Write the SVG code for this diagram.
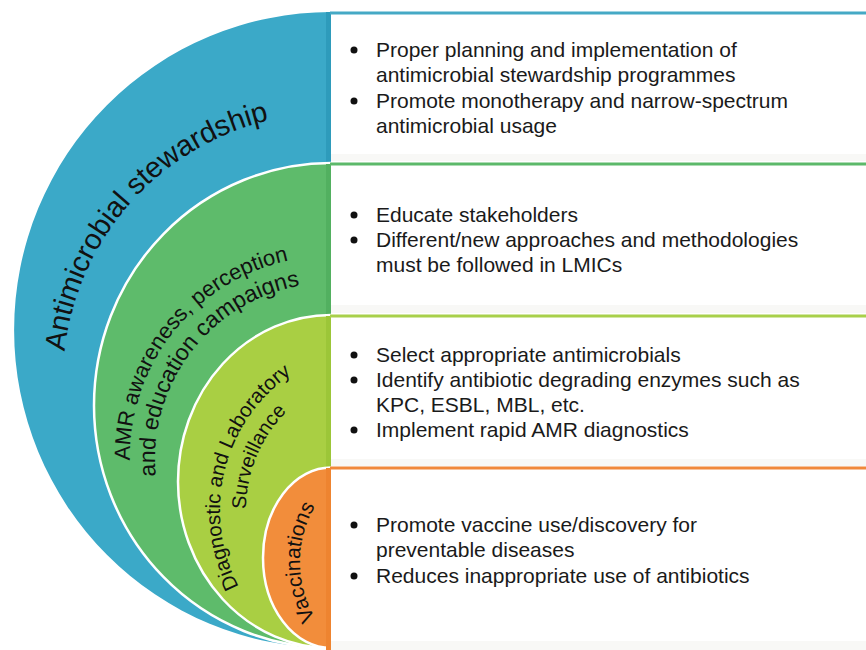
<svg xmlns="http://www.w3.org/2000/svg" width="866" height="650" viewBox="0 0 866 650">
<style>
.box{fill:#ffffff}
.shade{fill:#f8f8f6}
.bt{font-family:"Liberation Sans",Arial,sans-serif;font-size:21px;fill:#1a1a1a}
.bul{fill:#111}
.ct{font-family:"Liberation Sans",Arial,sans-serif;fill:#111}
.sep{stroke:#ffffff;stroke-width:2.5}
</style>
<defs>
<path id="pBlue" d="M197,613.1 A268,268 0 0 1 331,113"/>
<path id="pG1" d="M230.5,631.1 A201,201 0 0 1 331,256"/>
<path id="pG2" d="M243,611.4 A176,176 0 0 1 331,283"/>
<path id="pD1" d="M302.5,652.9 A165,165 0 0 1 385,345"/>
<path id="pD2" d="M315.5,630.4 A139,139 0 0 1 385,371"/>
<path id="pV" d="M355,657.3 A110,110 0 0 1 410,452"/>
</defs>

<g id="ring-stewardship">
<path d="M331,12 A317,318 0 0 0 331,648 Z" fill="#3ba9c8"/>
<rect x="326" y="12" width="5" height="150" fill="#2e9bbb"/>
<text class="ct" font-size="29"><textPath href="#pBlue" startOffset="310">Antimicrobial stewardship</textPath></text>
</g>
<g id="ring-awareness">
<path d="M331,163 A237,242.5 0 0 0 331,648" fill="#5ebb6b" class="sep"/>
<rect x="326" y="164" width="5" height="150" fill="#52b060"/>
<text class="ct" font-size="22"><textPath href="#pG1" startOffset="207">AMR awareness, perception</textPath></text>
<text class="ct" font-size="23"><textPath href="#pG2" startOffset="167">and education campaigns</textPath></text>
</g>
<g id="ring-diagnostic">
<path d="M331,315 A153,166.5 0 0 0 331,648" fill="#a9cf43" class="sep"/>
<rect x="326" y="316" width="5" height="151" fill="#9cc638"/>
<text class="ct" font-size="20.5"><textPath href="#pD1" startOffset="93">Diagnostic and Laboratory</textPath></text>
<text class="ct" font-size="20"><textPath href="#pD2" startOffset="146">Surveillance</textPath></text>
</g>
<g id="ring-vaccinations">
<path d="M331,467.5 A68,90.25 0 0 0 331,648" fill="#f28d3b" class="sep"/>
<rect x="326" y="468" width="5" height="182" fill="#ee8430"/>
<text class="ct" font-size="21" text-anchor="middle"><textPath href="#pV" startOffset="115">Vaccinations</textPath></text>
</g>

<g id="box-stewardship">
<rect class="box" x="331" y="12" width="535" height="149"/>
<rect class="shade" x="331" y="154" width="535" height="7"/>
<line x1="330" y1="13" x2="866" y2="13" stroke="#45a9c5" stroke-width="3"/>
<circle class="bul" cx="354" cy="50" r="3.5"/>
<text class="bt" x="376" y="57">Proper planning and implementation of</text>
<text class="bt" x="376" y="82">antimicrobial stewardship programmes</text>
<circle class="bul" cx="354" cy="101" r="3.5"/>
<text class="bt" x="376" y="108">Promote monotherapy and narrow-spectrum</text>
<text class="bt" x="376" y="133">antimicrobial usage</text>
</g>
<g id="box-awareness">
<rect class="box" x="331" y="163" width="535" height="150"/>
<rect class="shade" x="331" y="305" width="535" height="8"/>
<line x1="330" y1="164" x2="866" y2="164" stroke="#5cb96a" stroke-width="3"/>
<circle class="bul" cx="354" cy="215" r="3.5"/>
<text class="bt" x="376" y="222">Educate stakeholders</text>
<circle class="bul" cx="354" cy="240" r="3.5"/>
<text class="bt" x="376" y="247">Different/new approaches and methodologies</text>
<text class="bt" x="376" y="272">must be followed in LMICs</text>
</g>
<g id="box-diagnostic">
<rect class="box" x="331" y="315" width="535" height="151"/>
<rect class="shade" x="331" y="459" width="535" height="7"/>
<line x1="330" y1="316" x2="866" y2="316" stroke="#a8d04a" stroke-width="3"/>
<circle class="bul" cx="354" cy="355" r="3.5"/>
<text class="bt" x="376" y="362">Select appropriate antimicrobials</text>
<circle class="bul" cx="354" cy="380" r="3.5"/>
<text class="bt" x="376" y="387">Identify antibiotic degrading enzymes such as</text>
<text class="bt" x="376" y="412">KPC, ESBL, MBL, etc.</text>
<circle class="bul" cx="354" cy="430" r="3.5"/>
<text class="bt" x="376" y="437">Implement rapid AMR diagnostics</text>
</g>
<g id="box-vaccinations">
<rect class="box" x="331" y="467" width="535" height="183"/>
<rect class="shade" x="331" y="641" width="535" height="9"/>
<line x1="330" y1="468" x2="866" y2="468" stroke="#f0883a" stroke-width="3"/>
<circle class="bul" cx="354" cy="525" r="3.5"/>
<text class="bt" x="376" y="532">Promote vaccine use/discovery for</text>
<text class="bt" x="376" y="557">preventable diseases</text>
<circle class="bul" cx="354" cy="576" r="3.5"/>
<text class="bt" x="376" y="583">Reduces inappropriate use of antibiotics</text>
</g>
<g id="connectors"></g>
</svg>
